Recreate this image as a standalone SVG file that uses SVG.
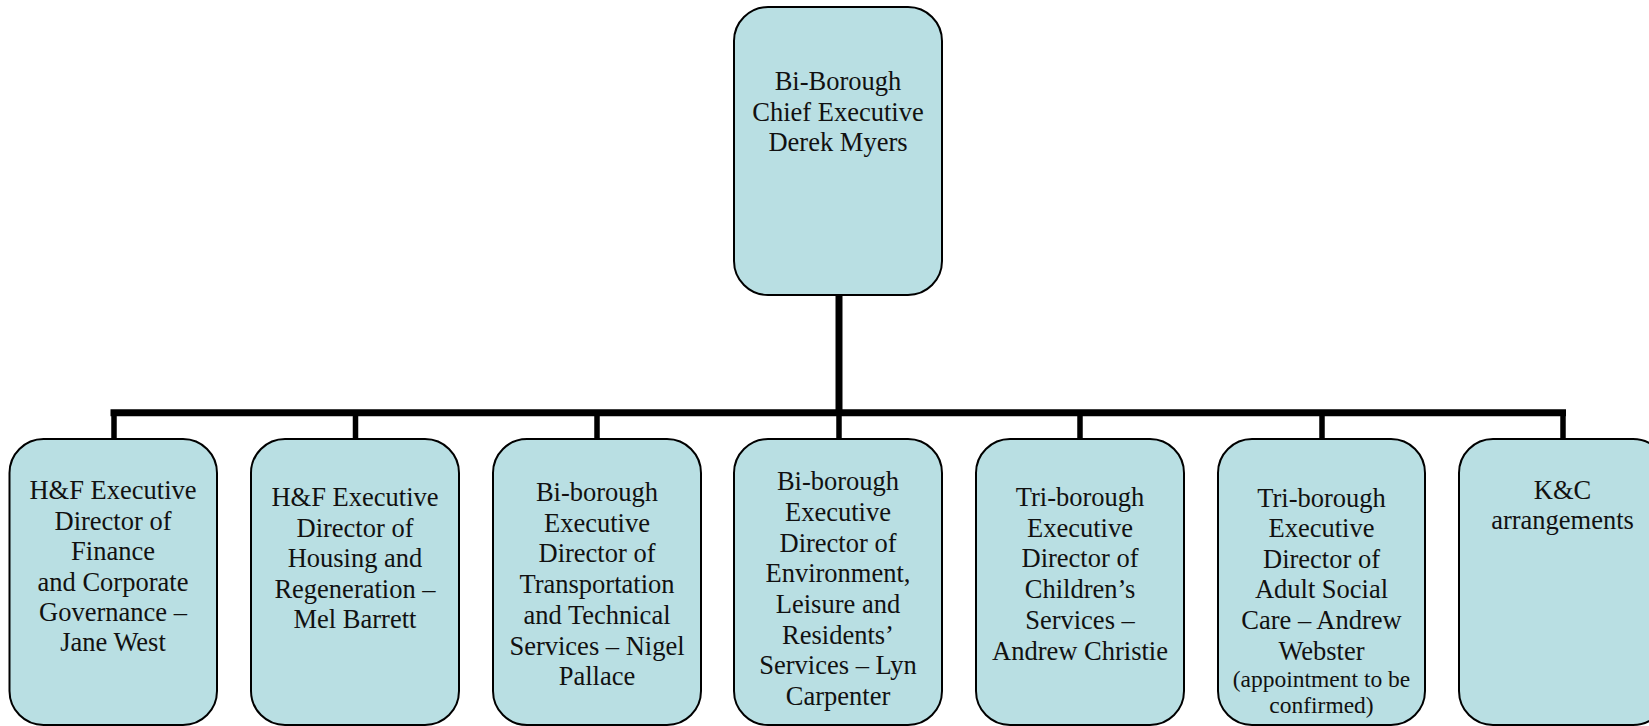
<svg xmlns="http://www.w3.org/2000/svg" width="1649" height="726" viewBox="0 0 1649 726">
<style>
.box{fill:#b9dfe3;stroke:#000;stroke-width:2}
.t{font-family:"Liberation Serif","Times New Roman",serif;font-size:26.5px;fill:#111;text-anchor:middle}
.s{font-size:23.5px}
.c{stroke:#000;fill:none}
</style>
<rect width="1649" height="726" fill="#fff"/>
<g id="connectors">
<line class="c" x1="839" y1="295" x2="839" y2="413" stroke-width="7"/>
<line class="c" x1="110.5" y1="412.7" x2="1566" y2="412.7" stroke-width="7"/>
<g stroke-width="5.5" class="c">
<line x1="114" y1="412" x2="114" y2="440"/>
<line x1="355.5" y1="412" x2="355.5" y2="440"/>
<line x1="597" y1="412" x2="597" y2="440"/>
<line x1="839" y1="412" x2="839" y2="440"/>
<line x1="1080" y1="412" x2="1080" y2="440"/>
<line x1="1322" y1="412" x2="1322" y2="440"/>
<line x1="1563" y1="412" x2="1563" y2="440"/>
</g>
</g>
<g id="ceo">
<rect class="box" x="734" y="7" width="208" height="288" rx="34"/>
<text class="t" x="838"><tspan x="838" y="90">Bi-Borough</tspan><tspan x="838" y="120.5">Chief Executive</tspan><tspan x="838" y="151">Derek Myers</tspan></text>
</g>
<g id="n1">
<rect class="box" x="9.5" y="439" width="207.5" height="286" rx="34"/>
<text class="t"><tspan x="113" y="499">H&amp;F Executive</tspan><tspan x="113" y="529.5">Director of</tspan><tspan x="113" y="560">Finance</tspan><tspan x="113" y="590.5">and Corporate</tspan><tspan x="113" y="621">Governance –</tspan><tspan x="113" y="651">Jane West</tspan></text>
</g>
<g id="n2">
<rect class="box" x="251" y="439" width="208" height="286" rx="34"/>
<text class="t"><tspan x="355" y="506">H&amp;F Executive</tspan><tspan x="355" y="536.7">Director of</tspan><tspan x="355" y="567">Housing and</tspan><tspan x="355" y="597.5">Regeneration –</tspan><tspan x="355" y="628.3">Mel Barrett</tspan></text>
</g>
<g id="n3">
<rect class="box" x="493" y="439" width="208" height="286" rx="34"/>
<text class="t"><tspan x="597" y="501">Bi-borough</tspan><tspan x="597" y="531.7">Executive</tspan><tspan x="597" y="562.3">Director of</tspan><tspan x="597" y="593">Transportation</tspan><tspan x="597" y="623.8">and Technical</tspan><tspan x="597" y="654.5">Services – Nigel</tspan><tspan x="597" y="685">Pallace</tspan></text>
</g>
<g id="n4">
<rect class="box" x="734" y="439" width="208" height="286" rx="34"/>
<text class="t"><tspan x="838" y="490">Bi-borough</tspan><tspan x="838" y="520.7">Executive</tspan><tspan x="838" y="551.5">Director of</tspan><tspan x="838" y="582.3">Environment,</tspan><tspan x="838" y="613">Leisure and</tspan><tspan x="838" y="643.5">Residents’</tspan><tspan x="838" y="674">Services – Lyn</tspan><tspan x="838" y="705">Carpenter</tspan></text>
</g>
<g id="n5">
<rect class="box" x="976" y="439" width="208" height="286" rx="34"/>
<text class="t"><tspan x="1080" y="506">Tri-borough</tspan><tspan x="1080" y="536.7">Executive</tspan><tspan x="1080" y="567.3">Director of</tspan><tspan x="1080" y="598">Children’s</tspan><tspan x="1080" y="629">Services –</tspan><tspan x="1080" y="660">Andrew Christie</tspan></text>
</g>
<g id="n6">
<rect class="box" x="1218" y="439" width="207" height="286" rx="34"/>
<text class="t"><tspan x="1321.5" y="506.7">Tri-borough</tspan><tspan x="1321.5" y="537">Executive</tspan><tspan x="1321.5" y="567.5">Director of</tspan><tspan x="1321.5" y="598">Adult Social</tspan><tspan x="1321.5" y="629">Care – Andrew</tspan><tspan x="1321.5" y="659.5">Webster</tspan><tspan class="s" x="1321.5" y="687">(appointment to be</tspan><tspan class="s" x="1321.5" y="713">confirmed)</tspan></text>
</g>
<g id="n7">
<rect class="box" x="1459" y="439" width="208" height="286" rx="34"/>
<text class="t"><tspan x="1562.5" y="499">K&amp;C</tspan><tspan x="1562.5" y="529">arrangements</tspan></text>
</g>
</svg>
